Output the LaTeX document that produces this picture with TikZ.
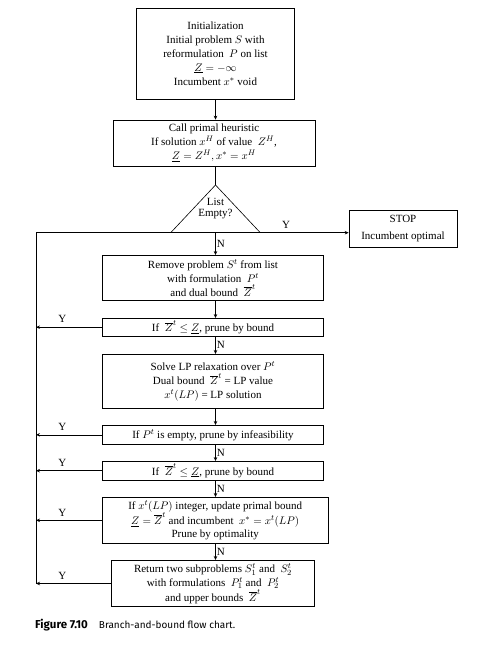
\documentclass[tikz,border=0pt]{standalone}
\usepackage{fontspec}
\setmainfont{Liberation Serif}
\newfontfamily\capfont{Fira Sans}
\usetikzlibrary{arrows.meta}
\tikzset{
  box/.style={draw, line width=0.6pt, align=center, inner sep=0pt, font=\fontsize{11}{14}\selectfont},
  arr/.style={-{Stealth[length=4pt,width=3.5pt]}, line width=0.6pt},
  ln/.style={line width=0.6pt},
  lab/.style={font=\fontsize{11}{12}\selectfont, inner sep=1pt}
}
\begin{document}
\begin{tikzpicture}[x=1pt,y=-1pt]
\useasboundingbox (0,0) rectangle (500,651);
\node[box, minimum width=158pt, minimum height=91pt] (b1) at (215.5,53.5)
  {Initialization\\ Initial problem $S$ with\\ reformulation\ \ $P$ on list\\ $\underline{Z}=-\infty$\\ Incumbent $x^*$ void};
\node[box, minimum width=202pt, minimum height=46pt] (b2) at (214,143)
  {Call primal heuristic\\ If solution $x^H$ of value\ \ $Z^H$,\\ $\underline{Z}=Z^H, x^*=x^H$};
\coordinate (apex) at (215.5,185);
\coordinate (tl) at (170.7,232.7);
\coordinate (tr) at (260.3,232.7);
\coordinate (tb) at (215.5,232.7);
\coordinate (lft) at (36,232.7);
\draw[ln] (tl) -- (apex) -- (tr);
\node[align=center, font=\fontsize{11}{11.6}\selectfont, inner sep=0pt] (tri) at (215.5,208.5) {List\\Empty?};
\node[box, minimum width=108pt, minimum height=36.6pt, font=\fontsize{11}{17}\selectfont] (stop) at (403,229) {STOP\\Incumbent optimal};
\node[box, minimum width=221.4pt, minimum height=44.7pt] (b3) at (213,277.7)
  {Remove problem $S^t$ from list\\ with formulation\ \ $P^t$\\ and dual bound\ \ $\overline{Z}^t$};
\node[box, minimum width=221.4pt, minimum height=17.7pt] (b4) at (213,327.2)
  {If\ \ $\overline{Z}^t\le\underline{Z}$, prune by bound};
\node[box, minimum width=221.4pt, minimum height=54.4pt] (b5) at (213,381.5)
  {Solve LP relaxation over $P^t$\\ Dual bound\ \ $\overline{Z}^t$ = LP value\\ $x^t(LP)$ = LP solution};
\node[box, minimum width=221.4pt, minimum height=19pt] (b6) at (213,434.8)
  {If $P^t$ is empty, prune by infeasibility};
\node[box, minimum width=221.4pt, minimum height=18.7pt] (b7) at (213,470.7)
  {If\ \ $\overline{Z}^t\le\underline{Z}$, prune by bound};
\node[box, minimum width=225.7pt, minimum height=46pt, font=\fontsize{11}{13.5}\selectfont] (b8) at (215.2,520.3)
  {If $x^t(LP)$ integer, update primal bound\\ $\underline{Z}=\overline{Z}^t$ and incumbent\ \ $x^*=x^t(LP)$\\ Prune by optimality};
\node[box, minimum width=203.4pt, minimum height=46.4pt, font=\fontsize{11}{13.6}\selectfont] (b9) at (213,583.5)
  {Return two subproblems $S_1^t$ and\ \ $S_2^t$\\ with formulations\ \ $P_1^t$ and\ \ $P_2^t$\\ and upper bounds\ \ $\overline{Z}^t$};
% main flow
\draw[arr] (b1.south -| apex) -- (b2.north -| apex);
\draw[ln] (b2.south -| apex) -- (apex);
\draw[arr] (lft) -- (lft -| stop.west) node[lab, pos=0.8, above=3pt] (ly0) {Y};
\draw[arr] (tb) -- (b3.north -| tb) node[lab, midway, right] (n0) {N};
\draw[arr] (b3.south -| tb) -- (b4.north -| tb);
\draw[arr] (b4.south -| tb) -- (b5.north -| tb) node[lab, midway, right] (n1) {N};
\draw[arr] (b5.south -| tb) -- (b6.north -| tb);
\draw[arr] (b6.south -| tb) -- (b7.north -| tb) node[lab, midway, right] (n2) {N};
\draw[arr] (b7.south -| tb) -- (b8.north -| tb) node[lab, midway, right] (n3) {N};
\draw[arr] (b8.south -| tb) -- (b9.north -| tb) node[lab, midway, right] (n4) {N};
% left returns
\draw[ln] (lft) -- (b9.west -| lft);
\draw[arr] (b4.west) -- (b4.west -| lft) node[lab, pos=0.6, above=3pt] (y1) {Y};
\draw[arr] (b6.west) -- (b6.west -| lft) node[lab, pos=0.6, above=3pt] (y2) {Y};
\draw[arr] (b7.west) -- (b7.west -| lft) node[lab, pos=0.6, above=3pt] (y3) {Y};
\draw[arr] (b8.west) -- (b8.west -| lft) node[lab, pos=0.6, above=3pt] (y4) {Y};
\draw[arr] (b9.west) -- (b9.west -| lft) node[lab, pos=0.65, above=3pt] (y5) {Y};
% caption
\node[anchor=west, inner sep=0pt, font=\capfont\fontsize{10}{12}\selectfont] (cap) at (35,625.5)
  {\textbf{\fontsize{11.5}{12}\selectfont Figure 7.10}\hspace{1.1em}Branch-and-bound flow chart.};
\end{tikzpicture}
\end{document}
